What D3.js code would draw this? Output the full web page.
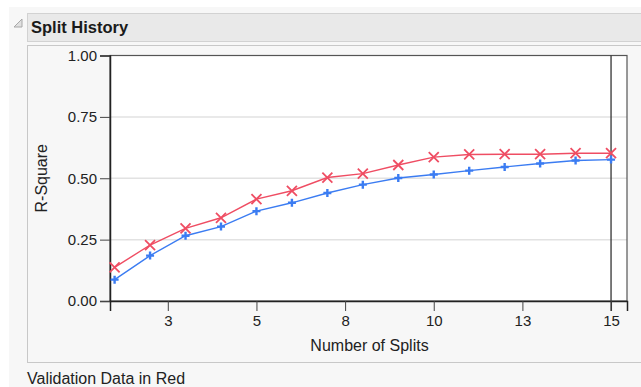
<!DOCTYPE html>
<html>
<head>
<meta charset="utf-8">
<script src="https://cdn.jsdelivr.net/npm/d3@7"></script>
<style>
  html, body { margin: 0; padding: 0; background: #ffffff; }
  svg { display: block; }
  text { font-family: Arial, "Liberation Sans", sans-serif; }
</style>
</head>
<body>
<svg id="chart" width="641" height="387"></svg>
<script>
// ---- data ----
const splits = [1, 2, 3, 4, 5, 6, 7, 8, 9, 10, 11, 12, 13, 14, 15];
const validationRSquare = [0.137, 0.228, 0.296, 0.339, 0.415, 0.449, 0.503, 0.519, 0.554, 0.586, 0.597, 0.598, 0.598, 0.602, 0.602];
const trainingRSquare   = [0.087, 0.185, 0.266, 0.303, 0.366, 0.400, 0.440, 0.474, 0.501, 0.515, 0.531, 0.546, 0.560, 0.572, 0.576];
const xTickValues = [2.5, 5, 7.5, 10, 12.5, 15];
const xTickLabels = ["3", "5", "8", "10", "13", "15"];
const yTickValues = [0, 0.25, 0.5, 0.75, 1];
const yTickLabels = ["0.00", "0.25", "0.50", "0.75", "1.00"];
const chosenSplit = 15;
const title = "Split History";
const xTitle = "Number of Splits";
const yTitle = "R-Square";
const footnote = "Validation Data in Red";

// ---- layout ----
const svg = d3.select("#chart");
const W = 641, H = 387;
const plot = { left: 110, right: 627, top: 55.5, bottom: 301 };
const red = "#ef4d63", blue = "#3b7cf2";
const font = "Arial, 'Liberation Sans', sans-serif";

// page background
svg.append("rect").attr("x", 0).attr("y", 0).attr("width", W).attr("height", H).attr("fill", "#ffffff");
svg.append("rect").attr("x", 9).attr("y", 7).attr("width", W - 9).attr("height", H - 7).attr("fill", "#f7f7f7");

// header bar
svg.append("rect").attr("x", 27.5).attr("y", 13.5).attr("width", W).attr("height", 28)
  .attr("fill", "#e9e9e9").attr("stroke", "#d2d2d2");
svg.append("path").attr("d", "M14,27 L22,19 L22,27 Z").attr("fill", "#e0e0e0").attr("stroke", "#a8a8a8").attr("stroke-width", 1);
svg.append("text").attr("x", 31).attr("y", 33).attr("font-size", 16.5).attr("font-weight", "bold")
  .attr("fill", "#1a1a1a").text(title);

// outer panel
svg.append("rect").attr("x", 27.5).attr("y", 45.5).attr("width", W).attr("height", 317)
  .attr("fill", "#f7f7f7").attr("stroke", "#c8c8c8");

// plot area
svg.append("rect").attr("x", plot.left).attr("y", plot.top)
  .attr("width", plot.right - plot.left).attr("height", plot.bottom - plot.top).attr("fill", "#ffffff");

const x = d3.scaleLinear().domain([0.87, 15.45]).range([plot.left, plot.right]);
const y = d3.scaleLinear().domain([0, 1]).range([plot.bottom, plot.top]);

// gridlines
svg.append("g").selectAll("line").data(yTickValues.filter(v => v > 0 && v < 1)).join("line")
  .attr("x1", plot.left).attr("x2", plot.right)
  .attr("y1", d => y(d)).attr("y2", d => y(d))
  .attr("stroke", "#e2e2e2").attr("stroke-width", 1.5);

// frame
svg.append("rect").attr("x", plot.left).attr("y", plot.top)
  .attr("width", plot.right - plot.left).attr("height", plot.bottom - plot.top)
  .attr("fill", "none").attr("stroke", "#555").attr("stroke-width", 1.2);

// axes
const yAxis = d3.axisLeft(y).tickValues(yTickValues).tickSize(10).tickPadding(3)
  .tickFormat((d, i) => yTickLabels[i]);
const gy = svg.append("g").attr("transform", `translate(${plot.left},0)`).call(yAxis);
gy.select(".domain").attr("stroke", "#222").attr("stroke-width", 1.5);
gy.selectAll(".tick line").attr("stroke", "#444");
gy.selectAll(".tick text").attr("font-size", 15).attr("fill", "#222").attr("font-family", font);

const xAxis = d3.axisBottom(x).tickValues(xTickValues).tickSize(10).tickPadding(4)
  .tickFormat((d, i) => xTickLabels[i]);
const gx = svg.append("g").attr("transform", `translate(0,${plot.bottom})`).call(xAxis);
gx.select(".domain").attr("stroke", "#222").attr("stroke-width", 1.5);
gx.selectAll(".tick line").attr("stroke", "#444");
gx.selectAll(".tick text").attr("font-size", 15).attr("fill", "#222").attr("font-family", font);

// axis titles
svg.append("text").attr("x", (plot.left + plot.right) / 2 + 1).attr("y", 351)
  .attr("text-anchor", "middle").attr("font-size", 16).attr("fill", "#222").text(xTitle);
svg.append("text").attr("transform", `translate(47,${(plot.top + plot.bottom) / 2}) rotate(-90)`)
  .attr("text-anchor", "middle").attr("font-size", 16).attr("fill", "#222").text(yTitle);

// chosen split line
svg.append("line").attr("x1", x(chosenSplit)).attr("x2", x(chosenSplit))
  .attr("y1", plot.top).attr("y2", plot.bottom + 10).attr("stroke", "#333").attr("stroke-width", 1.3);

// lines
const line = d3.line().x(d => x(d[0])).y(d => y(d[1]));
const valData = splits.map((s, i) => [s, validationRSquare[i]]);
const trnData = splits.map((s, i) => [s, trainingRSquare[i]]);

svg.append("path").datum(trnData).attr("d", line).attr("fill", "none").attr("stroke", blue).attr("stroke-width", 1.4);
svg.append("path").datum(valData).attr("d", line).attr("fill", "none").attr("stroke", red).attr("stroke-width", 1.4);

// markers
const crossSize = 5;
svg.append("g").selectAll("path").data(valData).join("path")
  .attr("d", d => {
    const cx = x(d[0]), cy = y(d[1]), s = crossSize;
    return `M${cx - s},${cy - s}L${cx + s},${cy + s}M${cx - s},${cy + s}L${cx + s},${cy - s}`;
  })
  .attr("stroke", red).attr("stroke-width", 1.8).attr("fill", "none");
const plusSize = 4;
svg.append("g").selectAll("path").data(trnData).join("path")
  .attr("d", d => {
    const cx = x(d[0]), cy = y(d[1]), s = plusSize;
    return `M${cx - s},${cy}L${cx + s},${cy}M${cx},${cy - s}L${cx},${cy + s}`;
  })
  .attr("stroke", blue).attr("stroke-width", 2.4).attr("fill", "none");

// footnote
svg.append("text").attr("x", 27).attr("y", 384).attr("font-size", 16).attr("fill", "#222").text(footnote);
</script>
</body>
</html>
